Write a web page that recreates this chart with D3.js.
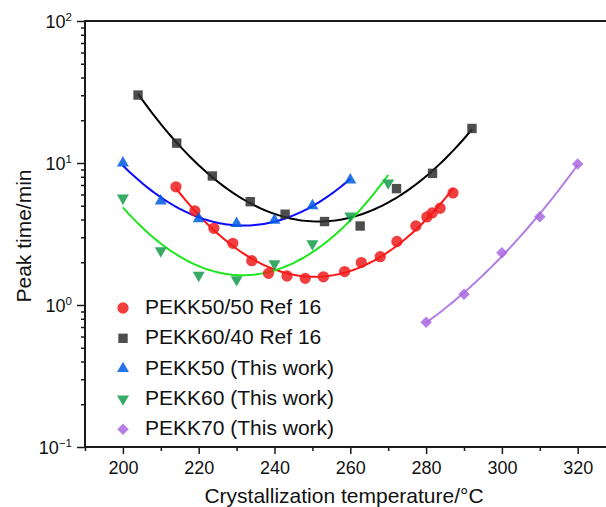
<!DOCTYPE html>
<html>
<head>
<meta charset="utf-8">
<script src="https://cdn.jsdelivr.net/npm/d3@7/dist/d3.min.js"></script>
<style>
  html, body { margin: 0; padding: 0; background: #fff; }
  svg { display: block; font-family: "Liberation Sans", Arial, Helvetica, sans-serif; }
</style>
</head>
<body>
<svg id="chart" width="606" height="507"></svg>
<script>
// Crystallization peak time vs. crystallization temperature
const tempPEKK5050 = [214, 219, 224, 229, 234, 238.4, 243.3, 248.1, 252.9, 258.5, 262.9, 267.9, 272.3, 277.3, 280.2, 281.6, 283.7, 287.1];
const timePEKK5050 = [6.8, 4.6, 3.47, 2.72, 2.05, 1.67, 1.6, 1.54, 1.58, 1.72, 1.99, 2.19, 2.8, 3.6, 4.17, 4.45, 4.8, 6.15];

const tempPEKK6040 = [204, 214.2, 223.6, 233.6, 242.8, 253.2, 262.6, 272.2, 281.7, 292.1];
const timePEKK6040 = [30.1, 13.8, 8.1, 5.34, 4.36, 3.87, 3.6, 6.6, 8.46, 17.5];

const tempPEKK50 = [200, 210, 220, 230, 240, 250, 260];
const timePEKK50 = [10.0, 5.4, 4.05, 3.75, 3.95, 5.0, 7.6];

const tempPEKK60 = [200, 210, 220, 230, 240, 250, 260, 270];
const timePEKK60 = [5.67, 2.41, 1.62, 1.51, 1.95, 2.7, 4.24, 7.25];

const tempPEKK70 = [280, 290, 300, 310, 320];
const timePEKK70 = [0.755, 1.19, 2.33, 4.19, 9.84];

const seriesNames = ["PEKK50/50 Ref 16", "PEKK60/40 Ref 16", "PEKK50 (This work)", "PEKK60 (This work)", "PEKK70 (This work)"];
const xTicks = [200, 220, 240, 260, 280, 300, 320];
const xMinorTicks = [190, 210, 230, 250, 270, 290, 310, 330];
const yTicks = [0.1, 1, 10, 100];
const yTickExponents = ["\u22121", "0", "1", "2"];

const series = [
  { name: seriesNames[0], x: tempPEKK5050, y: timePEKK5050, symbol: "circle",  fill: "#ee1c1c", line: "#ff1414" },
  { name: seriesNames[1], x: tempPEKK6040, y: timePEKK6040, symbol: "square",  fill: "#2e2e2e", line: "#000000" },
  { name: seriesNames[2], x: tempPEKK50,   y: timePEKK50,   symbol: "up",      fill: "#005ae6", line: "#0a0aff" },
  { name: seriesNames[3], x: tempPEKK60,   y: timePEKK60,   symbol: "down",    fill: "#149b4b", line: "#1ee61e" },
  { name: seriesNames[4], x: tempPEKK70,   y: timePEKK70,   symbol: "diamond", fill: "#aa69e1", line: "#b47fe3" }
];

const svg = d3.select("#chart");
const x = d3.scaleLinear().domain([190, 330]).range([85, 615.6]);
const y = d3.scaleLog().domain([0.1, 100]).range([447, 21]);

// Quadratic least-squares fit of log10(time) against temperature
function quadFit(xs, ys) {
  const ly = ys.map(Math.log10);
  const x0 = d3.mean(xs);
  const u = xs.map(v => v - x0);
  let S = [0, 0, 0, 0, 0], T = [0, 0, 0];
  u.forEach((ui, i) => {
    for (let k = 0; k < 5; k++) S[k] += Math.pow(ui, k);
    for (let k = 0; k < 3; k++) T[k] += Math.pow(ui, k) * ly[i];
  });
  const A = [[S[0], S[1], S[2]], [S[1], S[2], S[3]], [S[2], S[3], S[4]]];
  const b = T.slice();
  for (let i = 0; i < 3; i++) {
    for (let j = i + 1; j < 3; j++) {
      const f = A[j][i] / A[i][i];
      for (let k = i; k < 3; k++) A[j][k] -= f * A[i][k];
      b[j] -= f * b[i];
    }
  }
  const c = [0, 0, 0];
  for (let i = 2; i >= 0; i--) {
    let s = b[i];
    for (let k = i + 1; k < 3; k++) s -= A[i][k] * c[k];
    c[i] = s / A[i][i];
  }
  return t => Math.pow(10, c[0] + c[1] * (t - x0) + c[2] * (t - x0) * (t - x0));
}

function symbolPath(kind) {
  switch (kind) {
    case "circle":  return d3.symbol(d3.symbolCircle, 100)();
    case "square":  return d3.symbol(d3.symbolSquare, 88)();
    case "up":      return d3.symbol(d3.symbolTriangle, 62)();
    case "down":    return d3.symbol(d3.symbolTriangle, 62)();
    case "diamond": return d3.symbol(d3.symbolSquare, 66)();
  }
}
function symbolRotate(kind) {
  return kind === "down" ? 180 : kind === "diamond" ? 45 : 0;
}

// Fit curves
const line = d3.line().x(d => x(d[0])).y(d => y(d[1]));
series.forEach(s => {
  const f = quadFit(s.x, s.y);
  const t0 = d3.min(s.x), t1 = d3.max(s.x);
  const pts = d3.range(0, 101).map(i => {
    const t = t0 + (t1 - t0) * i / 100;
    return [t, f(t)];
  });
  svg.append("path")
    .attr("d", line(pts))
    .attr("fill", "none")
    .attr("stroke", s.line)
    .attr("stroke-width", 2);
});

// Data markers
series.forEach(s => {
  svg.append("g").selectAll("path")
    .data(s.x.map((t, i) => [t, s.y[i]]))
    .join("path")
    .attr("d", symbolPath(s.symbol))
    .attr("transform", d => `translate(${x(d[0])},${y(d[1])}) rotate(${symbolRotate(s.symbol)})`)
    .attr("fill", s.fill)
    .attr("fill-opacity", 0.85);
});

// Axes
const axisColor = "#1a1a1a";
const xAxisMinor = svg.append("g").attr("transform", "translate(0,447)")
  .call(d3.axisBottom(x).tickValues(xMinorTicks).tickSize(4).tickFormat(""));
const xAxisMajor = svg.append("g").attr("transform", "translate(0,447)")
  .call(d3.axisBottom(x).tickValues(xTicks).tickSize(7).tickFormat(d3.format("d")));
[xAxisMinor, xAxisMajor].forEach(g => {
  g.selectAll(".domain").remove();
  g.selectAll("line").attr("stroke", axisColor).attr("stroke-width", 1.5);
});
xAxisMajor.selectAll("text")
  .attr("font-size", 18)
  .attr("font-family", "'Liberation Sans', Arial, Helvetica, sans-serif")
  .attr("fill", "#111")
  .attr("dy", null)
  .attr("y", 27);

const yMinor = [];
[0.1, 1, 10].forEach(dec => { for (let k = 2; k <= 9; k++) yMinor.push(dec * k); });
const yAxisMajor = svg.append("g").attr("transform", "translate(85,0)")
  .call(d3.axisLeft(y).tickValues(yTicks).tickSize(8).tickFormat(""));
const yAxisMinor = svg.append("g").attr("transform", "translate(85,0)")
  .call(d3.axisLeft(y).tickValues(yMinor).tickSize(4).tickFormat(""));
[yAxisMajor, yAxisMinor].forEach(g => {
  g.selectAll(".domain").remove();
  g.selectAll("line").attr("stroke", axisColor).attr("stroke-width", 1.5);
});

// Power-of-ten tick labels
yTicks.forEach((v, i) => {
  const t = svg.append("text")
    .attr("x", 72)
    .attr("y", y(v) + 6.5)
    .attr("text-anchor", "end")
    .attr("font-size", 18)
    .attr("fill", "#111");
  t.append("tspan").text("10");
  t.append("tspan").attr("dy", -7).attr("font-size", 11.5).text(yTickExponents[i]);
});

// Frame lines: left, bottom, top
svg.append("line").attr("x1", 85).attr("x2", 85).attr("y1", 21).attr("y2", 447)
  .attr("stroke", axisColor).attr("stroke-width", 2);
svg.append("line").attr("x1", 84).attr("x2", 620).attr("y1", 447).attr("y2", 447)
  .attr("stroke", axisColor).attr("stroke-width", 2);
svg.append("line").attr("x1", 84).attr("x2", 620).attr("y1", 21).attr("y2", 21)
  .attr("stroke", axisColor).attr("stroke-width", 2);

// Axis titles
svg.append("text")
  .attr("x", 344).attr("y", 503)
  .attr("text-anchor", "middle")
  .attr("font-size", 21)
  .attr("fill", "#111")
  .text("Crystallization temperature/\u00B0C");
svg.append("text")
  .attr("transform", "translate(31,236) rotate(-90)")
  .attr("text-anchor", "middle")
  .attr("font-size", 21)
  .attr("fill", "#111")
  .text("Peak time/min");

// Legend
const legend = svg.append("g");
series.forEach((s, i) => {
  const cy = 308 + i * 30.3;
  legend.append("path")
    .attr("d", symbolPath(s.symbol))
    .attr("transform", `translate(123,${cy}) rotate(${symbolRotate(s.symbol)})`)
    .attr("fill", s.fill)
    .attr("fill-opacity", 0.85);
  legend.append("text")
    .attr("x", 145)
    .attr("y", cy + 6)
    .attr("font-size", 21)
    .attr("fill", "#111")
    .text(s.name);
});
</script>
</body>
</html>
